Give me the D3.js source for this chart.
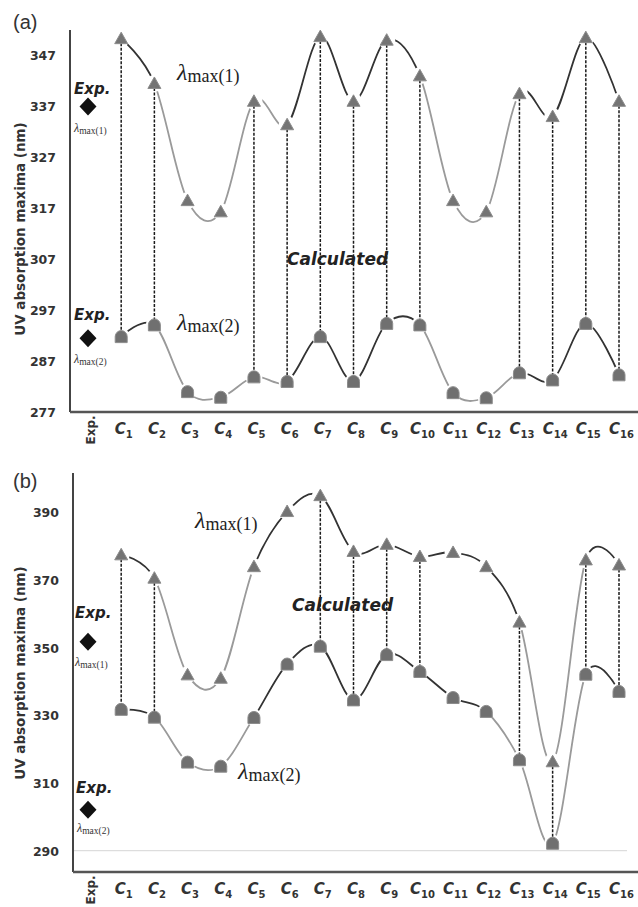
<!DOCTYPE html>
<html><head><meta charset="utf-8">
<script src="https://cdn.jsdelivr.net/npm/d3@7"></script>
<style>body{margin:0;background:#fff}</style>
</head><body><svg id="chart" width="638" height="907"></svg>
<script>
// ---------- data ----------
const categories = ["Exp.","C1","C2","C3","C4","C5","C6","C7","C8","C9","C10","C11","C12","C13","C14","C15","C16"];
const compounds = categories.slice(1);

const aLambda1 = [350.3, 341.5, 318.5, 316.3, 338.0, 333.4, 350.7, 338.0, 350.0, 343.0, 318.5, 316.3, 339.5, 335.0, 350.5, 338.0];
const aLambda2 = [291.8, 294.1, 281.0, 279.9, 283.9, 283.0, 291.8, 283.0, 294.4, 294.1, 280.8, 279.8, 284.7, 283.3, 294.4, 284.3];
const aExp = [337.0, 291.5];
const aDrops = ["C1","C2","C5","C6","C7","C8","C9","C10","C13","C14","C15","C16"];
const aTicks = [277, 287, 297, 307, 317, 327, 337, 347];

const bLambda1 = [377.5, 370.6, 342.0, 341.0, 374.0, 390.3, 395.0, 378.5, 380.6, 377.0, 378.2, 374.0, 357.6, 316.3, 376.0, 374.5];
const bLambda2 = [331.8, 329.5, 316.2, 315.0, 329.4, 345.2, 350.5, 334.6, 348.0, 343.0, 335.3, 331.2, 316.9, 292.2, 342.2, 337.1];
const bExp = [351.8, 302.1];
const bDrops = ["C1","C2","C7","C8","C9","C10","C13","C14","C15","C16"];
const bTicks = [290, 310, 330, 350, 370, 390];

// ---------- styles / layout ----------
const DARK = "#333", LIGHT = "#9a9a9a";
const panels = [
  { key:"a", tag:"(a)", tagY:29, domain:[277,352], range:[412,30], axisX:70,
    l1:aLambda1, l2:aLambda2, exp:aExp, drops:aDrops, ticks:aTicks, grid:null,
    shade1:"dllllddddllldd", shade2:"dllllddddllldd",
    big1:[177,80], big2:[177,330], small1:[74,132], small2:[74,363],
    exp1:[74,94], exp2:[74,320], calc:[287,265], titleY:229 },
  { key:"b", tag:"(b)", tagY:488, domain:[283.7,401.7], range:[872,473], axisX:73,
    l1:bLambda1, l2:bLambda2, exp:bExp, drops:bDrops, ticks:bTicks, grid:290,
    shade1:"dlllddddddddlld", shade2:"dllldddddddllld",
    big1:[195,528], big2:[238,779], small1:[75,666], small2:[77,832],
    exp1:[75,618], exp2:[76,793], calc:[292,611], titleY:673 }
];

const svg = d3.select("#chart");
const defs = svg.append("defs");
const x = d3.scalePoint().domain(categories).range([88, 619]);

const triPath = "M0,-6.5 L6.5,5 L-6.5,5 Z";
const domePath = "M-6,6 L-6,0 A6,6 0 0 1 6,0 L6,6 Z";

panels.forEach(p => {
  const y = d3.scaleLinear().domain(p.domain).range(p.range);
  const g = svg.append("g");
  const bottom = p.range[0];

  for (let i = 0; i < compounds.length - 1; i++) {
    defs.append("clipPath").attr("id", `clip-${p.key}-${i}`)
      .append("rect")
      .attr("x", x(compounds[i])).attr("y", 0)
      .attr("width", x(compounds[i+1]) - x(compounds[i])).attr("height", 907);
  }

  const line = d3.line()
    .x((d, i) => x(compounds[i]))
    .y(d => y(d))
    .curve(d3.curveCardinal.tension(0));

  [[p.l1, p.shade1], [p.l2, p.shade2]].forEach(([series, shade]) => {
    const dStr = line(series);
    for (let i = 0; i < compounds.length - 1; i++) {
      g.append("path").attr("d", dStr)
        .attr("fill", "none")
        .attr("stroke", shade[i] === "l" ? LIGHT : DARK)
        .attr("stroke-width", 1.8)
        .attr("clip-path", `url(#clip-${p.key}-${i})`);
    }
  });

  [p.l1, p.l2].forEach(series => {
    g.selectAll(null).data(series).enter().append("circle")
      .attr("cx", (d, i) => x(compounds[i])).attr("cy", d => y(d))
      .attr("r", 8.5).attr("fill", "#fff");
  });

  if (p.grid !== null) {
    g.append("line").attr("x1", p.axisX).attr("x2", 627)
      .attr("y1", y(p.grid)).attr("y2", y(p.grid))
      .attr("stroke", "#d6d6d6").attr("stroke-width", 1);
  }

  g.selectAll(null).data(p.drops).enter().append("line")
    .attr("x1", c => x(c)).attr("x2", c => x(c))
    .attr("y1", c => y(p.l1[compounds.indexOf(c)]))
    .attr("y2", c => y(p.l2[compounds.indexOf(c)]))
    .attr("stroke", "#1a1a1a").attr("stroke-width", 1.5)
    .attr("stroke-dasharray", "3,1.5");

  g.selectAll(null).data(p.l1).enter().append("path")
    .attr("d", triPath)
    .attr("transform", (d, i) => `translate(${x(compounds[i])},${y(d)})`)
    .attr("fill", "#747474").attr("stroke", "#8c8c8c").attr("stroke-width", 1);
  g.selectAll(null).data(p.l2).enter().append("path")
    .attr("d", domePath)
    .attr("transform", (d, i) => `translate(${x(compounds[i])},${y(d)})`)
    .attr("fill", "#707070").attr("stroke", "#8c8c8c").attr("stroke-width", 1);

  g.selectAll(null).data(p.exp).enter().append("path")
    .attr("d", "M0,-9 L8.5,0 L0,9 L-8.5,0 Z")
    .attr("transform", d => `translate(${x("Exp.")},${y(d)})`)
    .attr("fill", "#111");

  const ya = g.append("g").attr("transform", `translate(${p.axisX},0)`)
    .call(d3.axisLeft(y).tickValues(p.ticks).tickSize(0).tickPadding(14));
  ya.select(".domain").remove();
  ya.selectAll("text").attr("font-family", "DejaVu Sans").attr("font-weight", "bold")
    .attr("font-size", 12.5).attr("fill", "#333").attr("dy", "0.35em");
  g.append("line").attr("x1", p.axisX).attr("x2", p.axisX)
    .attr("y1", p.range[1]).attr("y2", bottom)
    .attr("stroke", "#444").attr("stroke-width", 2);

  const xa = g.append("g").attr("transform", `translate(0,${bottom})`)
    .call(d3.axisBottom(x).tickSize(0).tickFormat(() => ""));
  xa.select(".domain").remove();
  g.append("line").attr("x1", p.axisX).attr("x2", 638)
    .attr("y1", bottom).attr("y2", bottom)
    .attr("stroke", "#555").attr("stroke-width", 2.5);
  xa.selectAll(".tick").each(function(c) {
    const t = d3.select(this);
    t.select("text").remove();
    if (c === "Exp.") {
      t.append("text").attr("transform", "translate(6,18) rotate(-90)")
        .attr("text-anchor", "middle")
        .attr("font-family", "DejaVu Sans").attr("font-weight", "bold")
        .attr("font-size", 12).attr("fill", "#333").text("Exp.");
    } else {
      const tx = t.append("text").attr("x", 2).attr("y", 22)
        .attr("text-anchor", "middle").attr("fill", "#333")
        .attr("font-family", "DejaVu Sans").attr("font-weight", "bold");
      tx.append("tspan").attr("font-style", "italic").attr("font-size", 15).text("C");
      tx.append("tspan").attr("font-size", 10).attr("dy", 4).text(c.slice(1));
    }
  });

  g.append("text").attr("transform", `translate(25,${p.titleY}) rotate(-90)`)
    .attr("text-anchor", "middle").attr("font-family", "DejaVu Sans")
    .attr("font-weight", "bold").attr("font-size", 13.5).attr("fill", "#333")
    .text("UV absorption maxima (nm)");

  g.append("text").attr("x", 13).attr("y", p.tagY)
    .attr("font-family", "Liberation Sans").attr("font-size", 20).attr("fill", "#333")
    .text(p.tag);

  const lam = (pos, sub, big) => {
    const t = g.append("text").attr("x", pos[0]).attr("y", pos[1])
      .attr("font-family", "Liberation Serif").attr("fill", big ? "#222" : "#333");
    t.append("tspan").attr("font-style", "italic").attr("font-size", big ? 24 : 12).text("λ");
    t.append("tspan").attr("font-size", big ? 18 : 9.5).attr("dy", big ? 2 : 1.5).text(sub);
  };
  lam(p.big1, "max(1)", true);
  lam(p.big2, "max(2)", true);
  lam(p.small1, "max(1)", false);
  lam(p.small2, "max(2)", false);

  [p.exp1, p.exp2].forEach(pos => {
    g.append("text").attr("x", pos[0]).attr("y", pos[1])
      .attr("font-family", "DejaVu Sans").attr("font-weight", "bold")
      .attr("font-style", "italic").attr("font-size", 15).attr("fill", "#222")
      .text("Exp.");
  });

  g.append("text").attr("x", p.calc[0]).attr("y", p.calc[1])
    .attr("font-family", "DejaVu Sans").attr("font-weight", "bold")
    .attr("font-style", "italic").attr("font-size", 17).attr("fill", "#222")
    .text("Calculated");
});
</script></body></html>
